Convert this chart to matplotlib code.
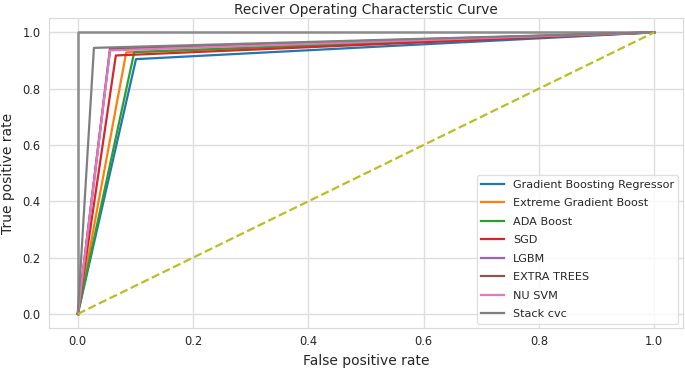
#!/usr/bin/env python3

import matplotlib
matplotlib.use("Agg")
import matplotlib.pyplot as plt

# ROC points (fpr, tpr) at the single threshold for each model
models = ["Gradient Boosting Regressor", "Extreme Gradient Boost", "ADA Boost", "SGD",
          "LGBM", "EXTRA TREES", "NU SVM", "Stack cvc"]
fpr = [0.101, 0.084, 0.098, 0.066, 0.056, 0.056, 0.056, 0.028]
tpr = [0.905, 0.929, 0.930, 0.918, 0.940, 0.943, 0.936, 0.945]
colors = ["tab:blue", "tab:orange", "tab:green", "tab:red",
          "tab:purple", "tab:brown", "tab:pink", "tab:gray"]

# ideal classifier and chance line
ideal_x = [0, 0, 1]
ideal_y = [0, 1, 1]
chance = [0, 1]


def plot_roc():
    fig = plt.figure(figsize=(6.85, 3.7), dpi=100)
    ax = fig.add_axes([0.0715, 0.1135, 0.9255, 0.837])

    ax.plot(ideal_x, ideal_y, color="0.55", lw=1.8)
    for name, f, t, c in zip(models, fpr, tpr, colors):
        ax.plot([0, f, 1], [0, t, 1], color=c, lw=1.6, label=name)
    ax.plot(chance, chance, color="tab:olive", ls="--", lw=1.6)

    ax.set_xlim(-0.05, 1.05)
    ax.set_ylim(-0.05, 1.05)
    ax.set_xticks([0, 0.2, 0.4, 0.6, 0.8, 1.0])
    ax.set_yticks([0, 0.2, 0.4, 0.6, 0.8, 1.0])
    ax.tick_params(length=0, labelsize=8.3, colors="0.15")
    ax.tick_params(axis="x", pad=5)
    ax.tick_params(axis="y", pad=6)
    ax.grid(True, color="0.87", lw=1)
    ax.set_axisbelow(True)
    for s in ax.spines.values():
        s.set_color("0.85")

    ax.set_title("Reciver Operating Characterstic Curve", fontsize=9.8, color="0.15", pad=3)
    ax.set_xlabel("False positive rate", fontsize=10, color="0.15", labelpad=4)
    ax.set_ylabel("True positive rate", fontsize=10, color="0.15", labelpad=5)
    leg = ax.legend(loc="lower right", fontsize=8.1, frameon=True, fancybox=True,
                    labelcolor="0.15", borderaxespad=0.4, labelspacing=0.75)
    leg.get_frame().set_edgecolor("0.85")

    fig.savefig("out.png", dpi=100)


if __name__ == "__main__":
    plot_roc()
